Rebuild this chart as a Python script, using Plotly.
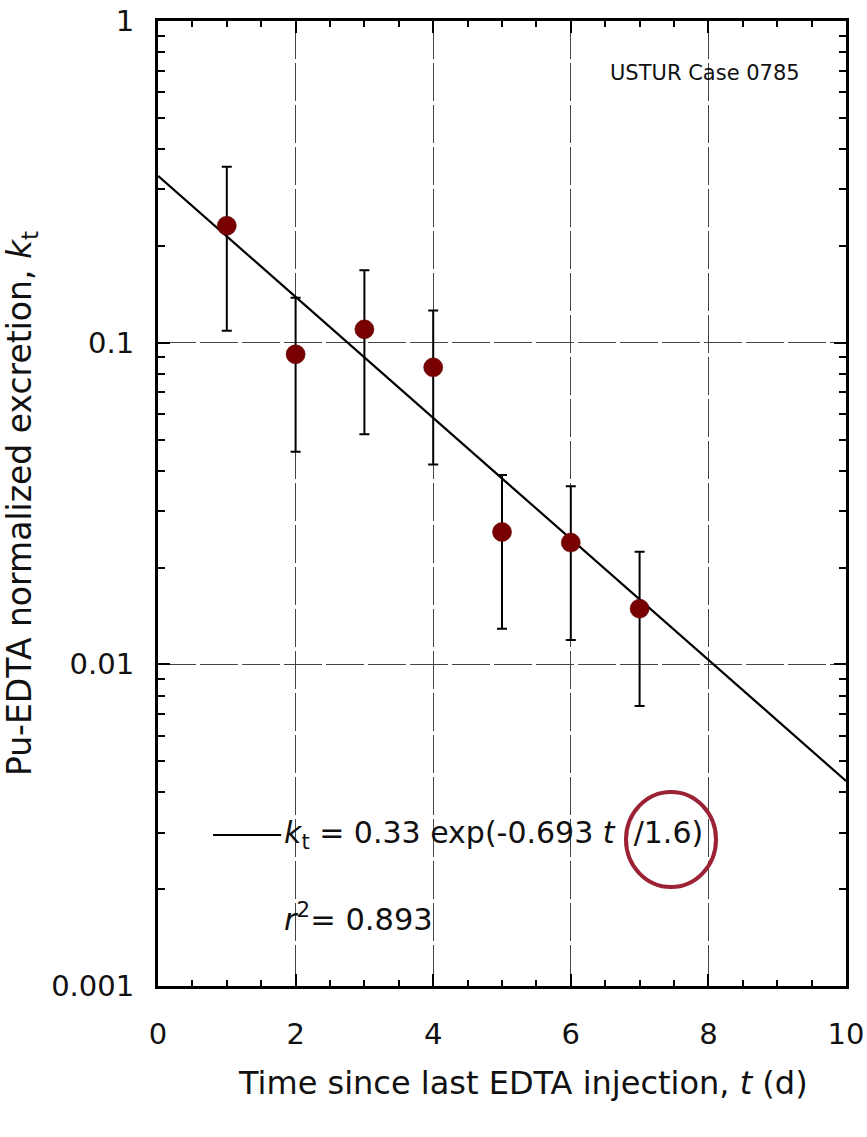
import math
import plotly.graph_objects as go

# Measured Pu-EDTA normalized excretion per day after the last EDTA injection
t_days = [1, 2, 3, 4, 5, 6, 7]
k_t = [0.231, 0.092, 0.110, 0.0838, 0.0258, 0.0239, 0.0149]
k_upper = [0.352, 0.138, 0.168, 0.126, 0.0388, 0.0358, 0.0224]
k_lower = [0.109, 0.0458, 0.0519, 0.0418, 0.0129, 0.0119, 0.00742]

# Exponential fit: k_t = a * exp(-0.693 t / T_half)
fit_a = 0.33
fit_half_life = 1.6
fit_t = [0, 10]
fit_k = [fit_a * math.exp(-0.693 * t / fit_half_life) for t in fit_t]

x_tick_vals = [0, 2, 4, 6, 8, 10]
y_tick_vals = [0.001, 0.01, 0.1, 1]
y_tick_text = ["0.001", "0.01", "0.1", "1"]
y_minor_vals = [m * 10 ** e for e in (-3, -2, -1) for m in range(2, 10)]

FONT = "DejaVu Sans"
GRID = dict(showgrid=True, gridcolor="#444444", gridwidth=1, griddash="38px,4px")

fig = go.Figure()

fig.add_trace(go.Scatter(
    x=fit_t, y=fit_k, mode="lines",
    line=dict(color="black", width=2.2),
    showlegend=False, hoverinfo="skip",
))

fig.add_trace(go.Scatter(
    x=t_days, y=k_t, mode="markers",
    marker=dict(size=19, color="#780000", line=dict(color="#5a0000", width=0.6)),
    error_y=dict(
        type="data", symmetric=False,
        array=[u - v for u, v in zip(k_upper, k_t)],
        arrayminus=[v - l for v, l in zip(k_t, k_lower)],
        color="black", thickness=2, width=5,
    ),
    showlegend=False,
))

fig.update_layout(
    width=867, height=1137,
    margin=dict(l=158, r=21, t=21, b=151),
    paper_bgcolor="white", plot_bgcolor="white",
    font=dict(family=FONT, size=29, color="#111111"),
    showlegend=False,
)

fig.update_xaxes(
    range=[0, 10], tickmode="array", tickvals=x_tick_vals,
    ticks="inside", ticklen=12, tickwidth=2, tickcolor="black",
    showline=True, linewidth=3, linecolor="black", mirror="allticks",
    minor=dict(dtick=0.5, ticks="inside", ticklen=6, tickwidth=2,
               tickcolor="black", showgrid=False),
    ticklabelstandoff=20,
    tickfont=dict(size=29),
    automargin=False,
    zeroline=False,
    **GRID,
)

fig.update_yaxes(
    type="log", range=[-3, 0], tickmode="array",
    tickvals=y_tick_vals, ticktext=y_tick_text,
    ticks="inside", ticklen=12, tickwidth=2, tickcolor="black",
    showline=True, linewidth=3, linecolor="black", mirror="allticks",
    minor=dict(tickmode="array", tickvals=y_minor_vals, ticks="inside",
               ticklen=7, tickwidth=2, tickcolor="black", showgrid=False),
    ticklabelstandoff=15,
    tickfont=dict(size=29),
    title=dict(text="Pu-EDTA normalized excretion, <i>k</i><sub>t</sub>",
               font=dict(size=33), standoff=10),
    automargin=False,
    zeroline=False,
    **GRID,
)

# X-axis title, set slightly right of the plot centre
fig.add_annotation(
    xref="paper", yref="paper", x=0.5305, y=-0.1005,
    xanchor="center", yanchor="middle", showarrow=False,
    text="Time since last EDTA injection, <i>t</i> (d)",
    font=dict(size=32),
)

# Fit legend: line sample plus equation, and the r^2 value
fig.add_shape(type="line", xref="paper", yref="paper",
              x0=0.080, x1=0.179, y0=0.1565, y1=0.1565,
              line=dict(color="black", width=2))
fig.add_annotation(
    xref="paper", yref="paper", x=0.180, y=0.1565,
    xanchor="left", yanchor="middle", showarrow=False,
    text="<i>k</i><sub>t</sub> = 0.33 exp(-0.693 <i>t</i>  /1.6)",
    font=dict(size=30),
)
fig.add_annotation(
    xref="paper", yref="paper", x=0.180, y=0.0715,
    xanchor="left", yanchor="middle", showarrow=False,
    text="<i>r</i><sup>2</sup>= 0.893",
    font=dict(size=30.5),
)
fig.add_annotation(
    xref="paper", yref="paper", x=0.936, y=0.946,
    xanchor="right", yanchor="middle", showarrow=False,
    text="USTUR Case 0785",
    font=dict(size=21),
)

# Highlight ring around the half-life term
fig.add_shape(type="circle", xref="paper", yref="paper",
              x0=(626 - 158) / 688, x1=(716 - 158) / 688,
              y0=(986 - 887) / 965, y1=(986 - 792) / 965,
              line=dict(color="#9b2335", width=4))

fig.write_html("out.html")
